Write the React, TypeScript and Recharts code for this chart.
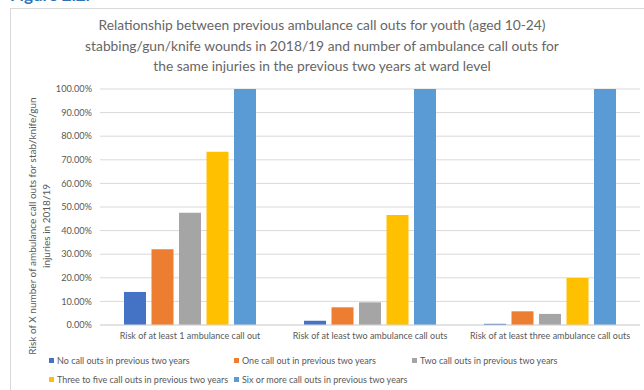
import { BarChart, Bar, XAxis, YAxis, CartesianGrid } from 'recharts';

// risk groups (x axis)
const categories = [
  'Risk of at least 1 ambulance call out',
  'Risk of at least two ambulance call outs',
  'Risk of at least three ambulance call outs',
];

// % of wards, by number of call outs in the previous two years
const noCallOuts = [14.0, 1.8, 0.5];
const oneCallOut = [32.1, 7.5, 5.8];
const twoCallOuts = [47.6, 9.6, 4.7];
const threeToFive = [73.4, 46.6, 19.9];
const sixOrMore = [100, 100, 100];

const yTicks = [0, 10, 20, 30, 40, 50, 60, 70, 80, 90, 100];

const series = [
  { key: 'none', name: 'No call outs in previous two years', color: '#4472C4', values: noCallOuts },
  { key: 'one', name: 'One call out in previous two years', color: '#ED7D31', values: oneCallOut },
  { key: 'two', name: 'Two call outs in previous two years', color: '#A5A5A5', values: twoCallOuts },
  { key: 'three', name: 'Three to five call outs in previous two years', color: '#FFC000', values: threeToFive },
  { key: 'six', name: 'Six or more call outs in previous two years', color: '#5B9BD5', values: sixOrMore },
];

const data = categories.map((name, i) => {
  const row: Record<string, string | number> = { name };
  series.forEach((s) => (row[s.key] = s.values[i]));
  return row;
});

const FONT = 'Lato, "Open Sans", sans-serif';
const GREY = '#595959';

// legend is laid out like excel: 3 columns, 2 rows
const legendCols = [49, 234, 412];
const legendRows = [360, 379];

export default function App() {
  return (
    <div
      style={{
        position: 'absolute',
        left: 0,
        top: 0,
        width: 644,
        height: 390,
        overflow: 'hidden',
        background: '#fff',
        fontFamily: FONT,
      }}
    >
      <div
        style={{
          position: 'absolute',
          left: 10,
          top: -14,
          fontSize: 17,
          fontWeight: 700,
          color: '#2E74B5',
          lineHeight: '17px',
        }}
      >
        Figure 2.2:
      </div>
      <div
        style={{
          position: 'absolute',
          left: 10,
          top: 8,
          width: 700,
          height: 420,
          border: '1px solid #D9D9D9',
        }}
      />
      <div
        style={{
          position: 'absolute',
          left: 0,
          top: 15,
          width: 644,
          textAlign: 'center',
          fontSize: 13.8,
          lineHeight: '20.5px',
          color: '#666',
        }}
      >
        Relationship between previous ambulance call outs for youth (aged 10-24)
        <br />
        stabbing/gun/knife wounds in 2018/19 and number of ambulance call outs for
        <br />
        the same injuries in the previous two years at ward level
      </div>
      <div
        style={{
          position: 'absolute',
          left: 40 - 150,
          top: 226 - 15,
          width: 300,
          height: 30,
          transform: 'rotate(-90deg)',
          textAlign: 'center',
          fontSize: 10,
          lineHeight: '14px',
          color: GREY,
        }}
      >
        Risk of X number of ambulance call outs for stab/knife/gun
        <br />
        injuries in 2018/19
      </div>

      <div style={{ position: 'absolute', left: 0, top: 0 }}>
        <BarChart
          width={644}
          height={390}
          data={data}
          margin={{ top: 89, right: 4, left: 10, bottom: 35 }}
          barSize={22}
          barGap={5.5}
        >
          <CartesianGrid vertical={false} stroke="#D9D9D9" />
          <XAxis
            dataKey="name"
            height={30}
            tickLine={false}
            axisLine={{ stroke: '#D9D9D9' }}
            tick={{ fill: GREY, fontSize: 9, fontFamily: FONT }}
            interval={0}
          />
          <YAxis
            width={90}
            domain={[0, 100]}
            ticks={yTicks}
            tickLine={false}
            axisLine={false}
            tickFormatter={(v: number) => `${v.toFixed(2)}%`}
            tick={{ fill: GREY, fontSize: 9.2, fontFamily: FONT }}
          />
          {series.map((s) => (
            <Bar
              key={s.key}
              dataKey={s.key}
              name={s.name}
              fill={s.color}
              isAnimationActive={false}
            />
          ))}
        </BarChart>
      </div>

      {series.map((s, i) => (
        <div
          key={s.key}
          style={{
            position: 'absolute',
            left: legendCols[i % 3],
            top: legendRows[Math.floor(i / 3)] - 7,
            height: 14,
            display: 'flex',
            alignItems: 'center',
            fontSize: 9,
            color: GREY,
            whiteSpace: 'nowrap',
          }}
        >
          <span
            style={{
              display: 'inline-block',
              width: 5,
              height: 5,
              background: s.color,
              marginRight: 3,
            }}
          />
          {s.name}
        </div>
      ))}
    </div>
  );
}
